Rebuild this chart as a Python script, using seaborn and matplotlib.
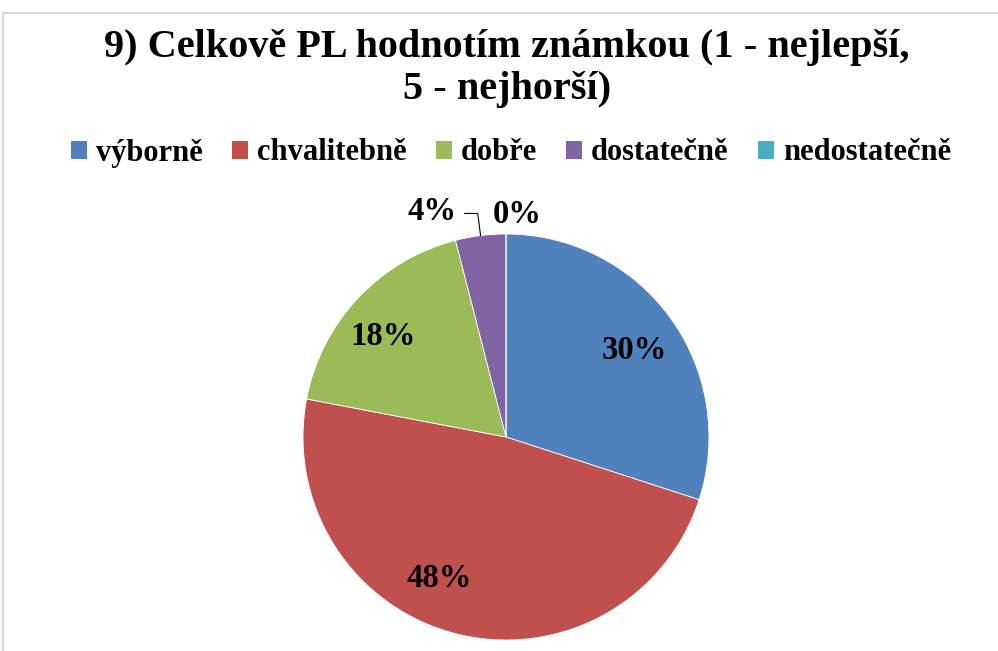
import numpy as np
import matplotlib
matplotlib.use("Agg")
import matplotlib.pyplot as plt
from matplotlib.patches import Patch, Rectangle
import seaborn as sns

# data
znamky = ["výborně", "chvalitebně", "dobře", "dostatečně", "nedostatečně"]
podily = [30, 48, 18, 4, 0]
barvy = ["#4F81BD", "#C0504D", "#9BBB59", "#8064A2", "#4BACC6"]
titulek = "9) Celkově PL hodnotím známkou (1 - nejlepší,\n5 - nejhorší)"

sns.set_style("white")
plt.rcParams["font.family"] = ["Liberation Serif", "DejaVu Serif"]
plt.rcParams["font.weight"] = "bold"
plt.rcParams["text.color"] = "black"

fig = plt.figure(figsize=(9.98, 6.51), dpi=100)

# ramecek grafu
fig.patches.append(Rectangle((3 / 998, -0.1), 1.1, 1.1 - 13 / 651,
                             transform=fig.transFigure, fill=False,
                             edgecolor="#d9d9d9", linewidth=1.5))

ax = fig.add_axes([303 / 998, 11 / 651, 406 / 998, 406 / 651])
paleta = sns.color_palette(barvy)
wedges, _ = ax.pie(podily, colors=paleta, startangle=90, counterclock=False,
                   radius=1, wedgeprops=dict(linewidth=0.6, edgecolor="white"))
ax.set_xlim(-1, 1)
ax.set_ylim(-1, 1)
ax.set_aspect("equal")
ax.axis("off")

# popisky procent (posun uhlu, vzdalenost od stredu)
posun = [-2, -11, 4, 11, -3]
vzdal = [0.76, 0.77, 0.78, 1.17, 1.10]
for w, p, da, r in zip(wedges, podily, posun, vzdal):
    stred = np.deg2rad((w.theta1 + w.theta2) / 2)
    uhel = stred + np.deg2rad(da)
    ax.text(r * np.cos(uhel), r * np.sin(uhel), f"{p}%", ha="center",
            va="center", fontsize=23.5, fontweight="bold", color="black")
    if p > 0 and r > 1:
        # vodici cara k malemu vysecu
        x0, y0 = np.cos(stred), np.sin(stred)
        x1, y1 = 1.11 * np.cos(stred), 1.11 * np.sin(stred)
        ax.plot([x0, x1, x1 - 0.065], [y0, y1, y1], color="black",
                linewidth=0.8, clip_on=False)

fig.text(507 / 998, 1 - 29 / 651, titulek, ha="center", va="top",
         fontsize=29, fontweight="bold", linespacing=1.17, color="black")

handles = [Patch(facecolor=c, edgecolor="none") for c in paleta]
fig.legend(handles, znamky, loc="center", bbox_to_anchor=(511 / 998, 1 - 153 / 651),
           ncol=5, frameon=False, fontsize=22, handlelength=0.52,
           handleheight=0.52, handletextpad=0.3, columnspacing=0.95,
           borderaxespad=0, borderpad=0)

fig.savefig("out.png", dpi=100)
